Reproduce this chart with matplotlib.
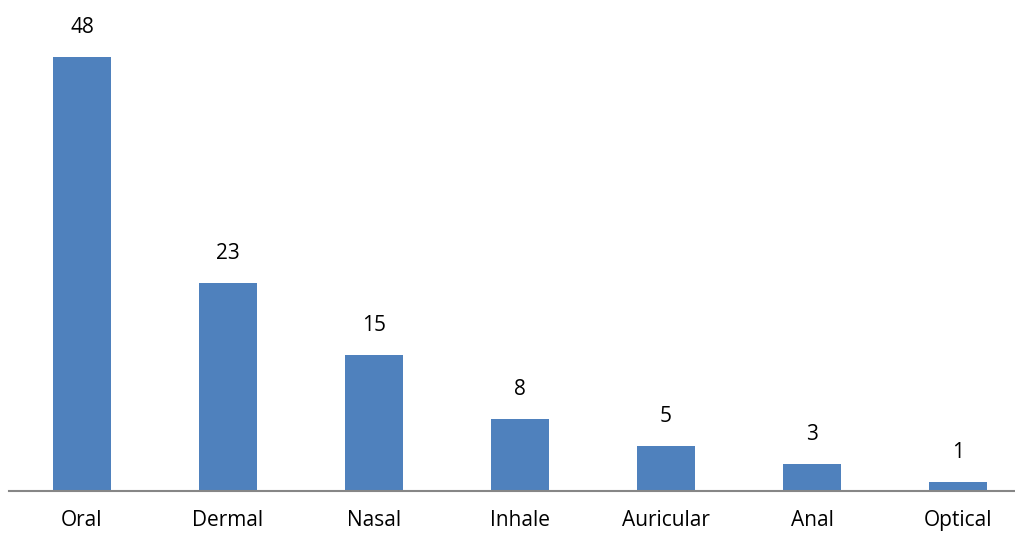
import matplotlib
matplotlib.use("Agg")
import matplotlib.pyplot as plt

categories = ["Oral", "Dermal", "Nasal", "Inhale", "Auricular", "Anal", "Optical"]
values = [48, 23, 15, 8, 5, 3, 1]

plt.rcParams['font.family'] = ['Open Sans', 'DejaVu Sans']

fig = plt.figure(figsize=(10.15, 5.39), dpi=100)
ax = fig.add_axes([9/1015, 48/539, 1022/1015, 491/539])

x = list(range(len(categories)))
bars = ax.bar(x, values, width=0.397, color="#4F81BD")
for xi, v in zip(x, values):
    ax.annotate(str(v), (xi, v), xytext=(0, 24), textcoords="offset pixels",
                ha="center", va="baseline", fontsize=15, color="black")

ax.set_xlim(-0.5, 6.5)
ax.set_ylim(0, 54.3)
ax.set_xticks(x)
ax.set_xticklabels(categories, fontsize=15)
ax.tick_params(axis='x', length=0, pad=14)
ax.set_yticks([])
for s in ["top", "right", "left"]:
    ax.spines[s].set_visible(False)
ax.spines["bottom"].set_color("#868686")
ax.spines["bottom"].set_linewidth(1.5)

fig.savefig("out.png", dpi=100)
